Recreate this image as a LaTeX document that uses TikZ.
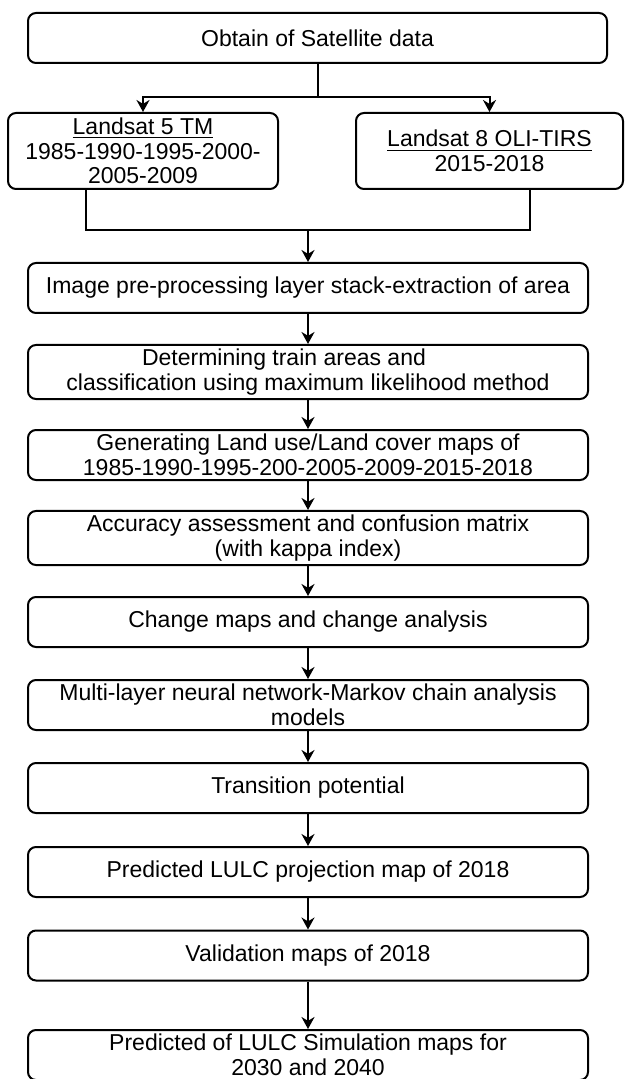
\documentclass[tikz,border=0pt]{standalone}
\usepackage{fontspec}
\setmainfont{Liberation Sans}
\usetikzlibrary{arrows.meta}
\tikzset{
  stage/.style={draw, rounded corners=4pt, line width=1pt, align=center,
    minimum width=280pt, minimum height=25pt, inner sep=2pt,
    font=\fontsize{11.5}{12.3}\selectfont},
  sat/.style={stage, minimum height=38pt},
  flow/.style={line width=1pt},
}
\begin{document}
\begin{tikzpicture}[x=0.5pt,y=-0.5pt,>={Stealth[length=6pt,width=6.5pt]}]
	\useasboundingbox (0,0) rectangle (625,1079);
	
	% Satellite data
	\node[stage, minimum width=289.5pt] (obt) at (317.5,38) {Obtain of Satellite data};
	\node[sat, minimum width=135pt] (tm) at (143,151)
	{\underline{Landsat 5 TM}\\1985-1990-1995-2000-\\2005-2009};
	\node[sat, minimum width=133.5pt] (oli) at (489.5,151)
	{\underline{Landsat 8 OLI-TIRS}\\2015-2018};
	
	% Steps
	\node[stage] (pre) at (308,288) {Image pre-processing layer stack-extraction of area};
	\node[stage] (cls) at (308,372) {Determining train areas and\hspace*{24pt}\\classification using maximum likelihood method};
	\node[stage] (gen) at (308,455) {Generating Land use/Land cover maps of\\1985-1990-1995-200-2005-2009-2015-2018};
	\node[stage] (acc) at (308,538) {Accuracy assessment and confusion matrix\\(with kappa index)};
	\node[stage] (chg) at (308,622) {Change maps and change analysis};
	\node[stage] (mlp) at (308,705) {Multi-layer neural network-Markov chain analysis\\models};
	\node[stage] (tp) at (308,788) {Transition potential};
	\node[stage] (prd) at (308,872) {Predicted LULC projection map of 2018};
	\node[stage] (val) at (308,955.5) {Validation maps of 2018};
	\node[stage] (sim) at (308,1055) {Predicted of LULC Simulation maps for\\2030 and 2040};
	
	% Split and merge
	\coordinate (s) at (317.5,97);
	\coordinate (ml) at (86,230);
	\coordinate (mr) at (530,230);
	\coordinate (mc) at (308,230);
	\draw[flow] (obt) -- (s);
	\draw[flow,->] (s) -| (tm);
	\draw[flow,->] (s) -| (oli);
	\draw[flow] (tm.south -| ml) -- (ml) -- (mr) -- (oli.south -| mr);
	\draw[flow,->] (mc) -- (pre);
	
	% Arrows
	\foreach \a/\b in {pre/cls,cls/gen,gen/acc,acc/chg,chg/mlp,mlp/tp,tp/prd,prd/val,val/sim}
	\draw[flow,->] (\a) -- (\b);
\end{tikzpicture}
\end{document}
